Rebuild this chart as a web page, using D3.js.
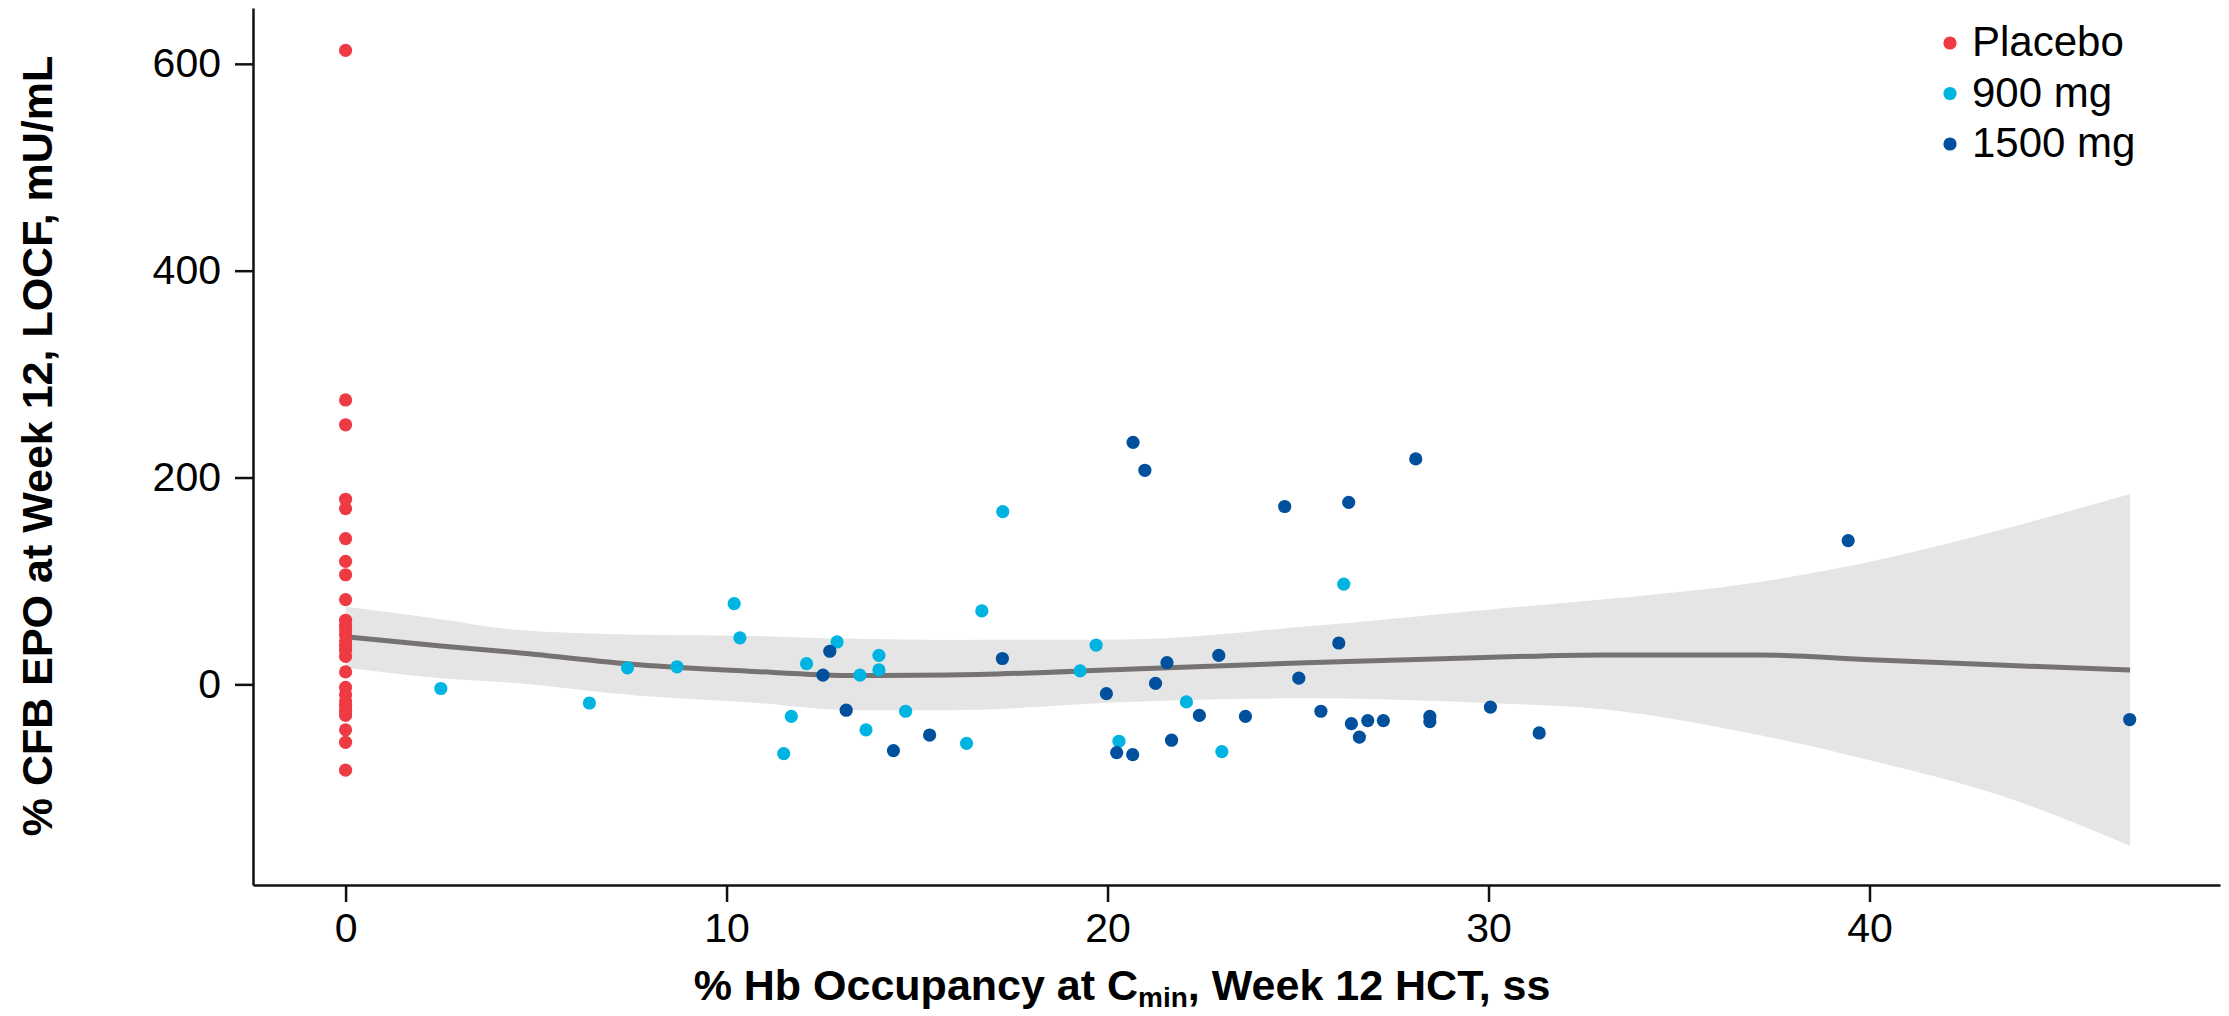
<!DOCTYPE html>
<html>
<head>
<meta charset="utf-8">
<script src="https://cdn.jsdelivr.net/npm/d3@7"></script>
<style>
  html, body { margin: 0; padding: 0; background: #fff; }
  svg { display: block; font-family: "Liberation Sans", Arial, Helvetica, sans-serif; }
</style>
</head>
<body>
<svg id="chart" width="2229" height="1016"></svg>
<script>
// Placebo: all subjects sit at 0 % occupancy
const placeboY = [613, 275, 251, 179, 170, 141, 119, 106, 82, 62, 57, 53, 48, 42, 37, 33, 27, 12,
  -3, -10, -16, -21, -26, -30, -44, -56, -83];

// 900 mg arm: [% Hb occupancy, % CFB EPO]
const dose900 = [
  [2.5, -4], [6.4, -18], [7.4, 16], [8.7, 17], [10.2, 78], [10.35, 45], [11.5, -67], [11.7, -31],
  [12.1, 20], [12.9, 41], [13.5, 9], [13.66, -44], [14.0, 28], [14.0, 14], [14.7, -26], [16.3, -57],
  [16.7, 71], [17.25, 167], [19.28, 13], [19.7, 38], [20.3, -55], [22.07, -17], [23.0, -65], [26.2, 97]
];

// 1500 mg arm
const dose1500 = [
  [12.53, 9], [12.71, 32], [13.14, -25], [14.38, -64], [15.33, -49], [17.24, 25], [19.97, -9],
  [20.24, -66], [20.66, -68], [20.67, 234], [20.98, 207], [21.26, 1], [21.56, 21], [21.68, -54],
  [22.41, -30], [22.92, 28], [23.62, -31], [24.65, 172], [25.02, 6], [25.6, -26], [26.07, 40],
  [26.33, 176], [26.4, -38], [26.61, -51], [26.83, -35], [27.24, -35], [28.09, 218], [28.46, -31],
  [28.46, -36], [30.05, -22], [31.33, -47], [39.44, 139], [46.83, -34]
];

// Loess smooth with its confidence band
const fitX  = [0, 2.5, 4.4, 7.7, 10.5, 13.4, 15.8, 20.5, 25.2, 29.9, 33.0, 37.1, 40.2, 43.4, 46.84];
const fitY  = [46, 37, 31, 19, 13, 8.5, 9, 14.5, 21, 26, 28.5, 28.5, 23.5, 18.7, 13.8];
const fitHi = [75, 63, 53, 48, 47, 44, 43, 43.5, 56, 72, 82, 99, 120, 149, 184];
const fitLo = [16, 6, 1.5, -11, -17, -25, -25, -17, -13.5, -18, -24, -49, -75, -107, -156];

const xTicks = [0, 10, 20, 30, 40];
const yTicks = [0, 200, 400, 600];

const seriesNames = ["Placebo", "900 mg", "1500 mg"];
const seriesColors = ["#EE3A43", "#00B4E1", "#00509E"];

const svg = d3.select("#chart");

const x = d3.scaleLinear().domain([-2.43, 49.2]).range([253, 2220]);
const y = d3.scaleLinear().domain([-194, 654]).range([885, 8]);

// confidence band
const band = fitX.map((v, i) => ({ x: v, lo: fitLo[i], hi: fitHi[i], y: fitY[i] }));
svg.append("path")
  .datum(band)
  .attr("fill", "#E5E5E5")
  .attr("d", d3.area()
    .x(d => x(d.x)).y0(d => y(d.lo)).y1(d => y(d.hi))
    .curve(d3.curveMonotoneX));

svg.append("path")
  .datum(band)
  .attr("fill", "none")
  .attr("stroke", "#767272")
  .attr("stroke-width", 5)
  .attr("d", d3.line().x(d => x(d.x)).y(d => y(d.y)).curve(d3.curveMonotoneX));

// points
const groups = [
  placeboY.map(v => [0, v]),
  dose900,
  dose1500
];
groups.forEach((pts, gi) => {
  svg.append("g").selectAll("circle")
    .data(pts)
    .join("circle")
    .attr("cx", d => x(d[0]))
    .attr("cy", d => y(d[1]))
    .attr("r", 6.6)
    .attr("fill", seriesColors[gi]);
});

// axes
const xAxis = d3.axisBottom(x).tickValues(xTicks).tickSize(17).tickSizeOuter(0).tickPadding(11);
const yAxis = d3.axisLeft(y).tickValues(yTicks).tickSize(18).tickSizeOuter(0).tickPadding(14);

const gx = svg.append("g").attr("transform", "translate(0,885)").call(xAxis);
const gy = svg.append("g").attr("transform", "translate(253,0)").call(yAxis);

[gx, gy].forEach(g => {
  g.select(".domain").attr("stroke", "#111").attr("stroke-width", 2.5);
  g.selectAll(".tick line").attr("stroke", "#111").attr("stroke-width", 2.5);
  g.selectAll(".tick text")
    .attr("fill", "#000")
    .style("font-size", "41px")
    .style("font-family", "'Liberation Sans', Arial, sans-serif");
});

// axis titles
const xTitle = svg.append("text")
  .attr("x", 1122).attr("y", 1000)
  .attr("text-anchor", "middle")
  .style("font-size", "43px").style("font-weight", "bold");
xTitle.append("tspan").text("% Hb Occupancy at C");
xTitle.append("tspan").attr("dy", 7).style("font-size", "28px").text("min");
xTitle.append("tspan").attr("dy", -7).text(", Week 12 HCT, ss");

svg.append("text")
  .attr("transform", "translate(52,446) rotate(-90)")
  .attr("text-anchor", "middle")
  .style("font-size", "43px").style("font-weight", "bold")
  .text("% CFB EPO at Week 12, LOCF, mU/mL");

// legend
const legend = svg.append("g");
seriesNames.forEach((name, i) => {
  const cy = 43 + i * 50.5;
  legend.append("circle").attr("cx", 1950).attr("cy", cy).attr("r", 6.6).attr("fill", seriesColors[i]);
  legend.append("text").attr("x", 1972).attr("y", cy + 13)
    .style("font-size", "42px").attr("fill", "#000").text(name);
});
</script>
</body>
</html>
